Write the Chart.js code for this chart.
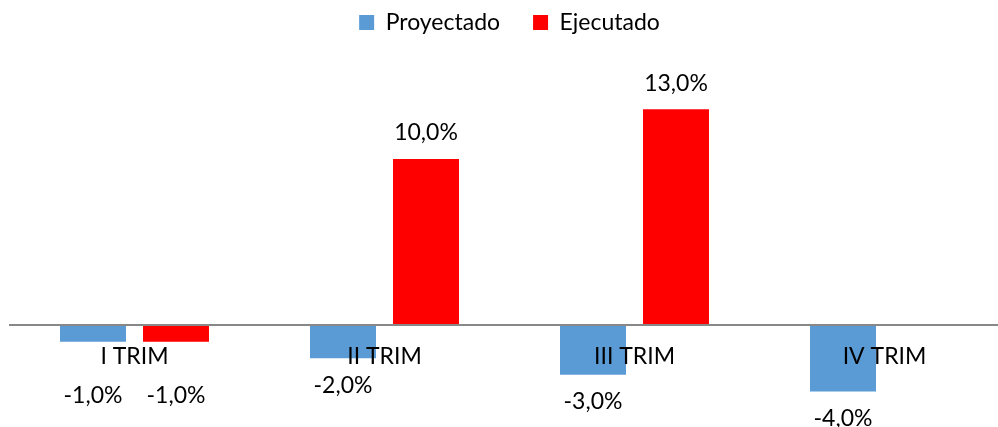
<!DOCTYPE html>
<html>
<head>
<meta charset="utf-8">
<script src="https://cdn.jsdelivr.net/npm/chart.js@4.4.1/dist/chart.umd.min.js"></script>
<style>
  html, body { margin: 0; padding: 0; background: #fff; overflow: hidden; }
  #wrap { position: relative; width: 1028px; height: 427px; }
</style>
</head>
<body>
<div id="wrap"><canvas id="c"></canvas></div>
<script>
const categories = ['I TRIM', 'II TRIM', 'III TRIM', 'IV TRIM'];
const proyectado = [-1.0, -2.0, -3.0, -4.0];
const ejecutado = [-1.0, 10.0, 13.0, null];
const seriesNames = ['Proyectado', 'Ejecutado'];
const seriesColors = ['#5B9BD5', '#FF0000'];

const FONT = 'Lato, "Open Sans", sans-serif';
const FS = 23;

const fmt = v => v.toFixed(1).replace('.', ',') + '%';

const valueLabels = {
  id: 'valueLabels',
  afterDraw(chart) {
    const ctx = chart.ctx;
    const zeroY = chart.scales.y.getPixelForValue(0);
    ctx.save();
    ctx.font = FS + 'px ' + FONT;
    ctx.fillStyle = '#000';
    ctx.textAlign = 'center';
    ctx.textBaseline = 'middle';
    chart.data.datasets.forEach((ds, di) => {
      const meta = chart.getDatasetMeta(di);
      meta.data.forEach((bar, i) => {
        const v = ds.data[i];
        if (v === null || v === undefined) return;
        let y;
        if (v >= 0) {
          y = bar.y - 26;
        } else {
          y = bar.y + 27;
          if (y < zeroY + 58) y = zeroY + 71;
        }
        ctx.fillText(fmt(v), bar.x, y);
      });
    });
    ctx.restore();
  }
};

new Chart(document.getElementById('c'), {
  type: 'bar',
  data: {
    labels: categories,
    datasets: [
      { label: seriesNames[0], data: proyectado, backgroundColor: seriesColors[0] },
      { label: seriesNames[1], data: ejecutado, backgroundColor: seriesColors[1] }
    ]
  },
  options: {
    responsive: true,
    maintainAspectRatio: false,
    devicePixelRatio: 1,
    animation: false,
    datasets: { bar: { categoryPercentage: 0.664, barPercentage: 0.795 } },
    layout: { padding: { top: -22, left: 9.5, right: 18.5, bottom: 0 } },
    plugins: {
      legend: {
        position: 'top',
        labels: {
          boxWidth: 15, boxHeight: 15, padding: 33,
          color: '#000',
          font: { family: FONT, size: FS }
        }
      },
      tooltip: { enabled: false }
    },
    scales: {
      x: {
        position: { y: 0 },
        grid: { display: false, drawTicks: false },
        border: { display: true, color: '#888888', width: 2, z: 1 },
        ticks: { color: '#000', padding: 18, z: 2, font: { family: FONT, size: FS } }
      },
      y: {
        display: false,
        min: -6.14,
        max: 16.93
      }
    }
  },
  plugins: [valueLabels]
});
</script>
</body>
</html>
